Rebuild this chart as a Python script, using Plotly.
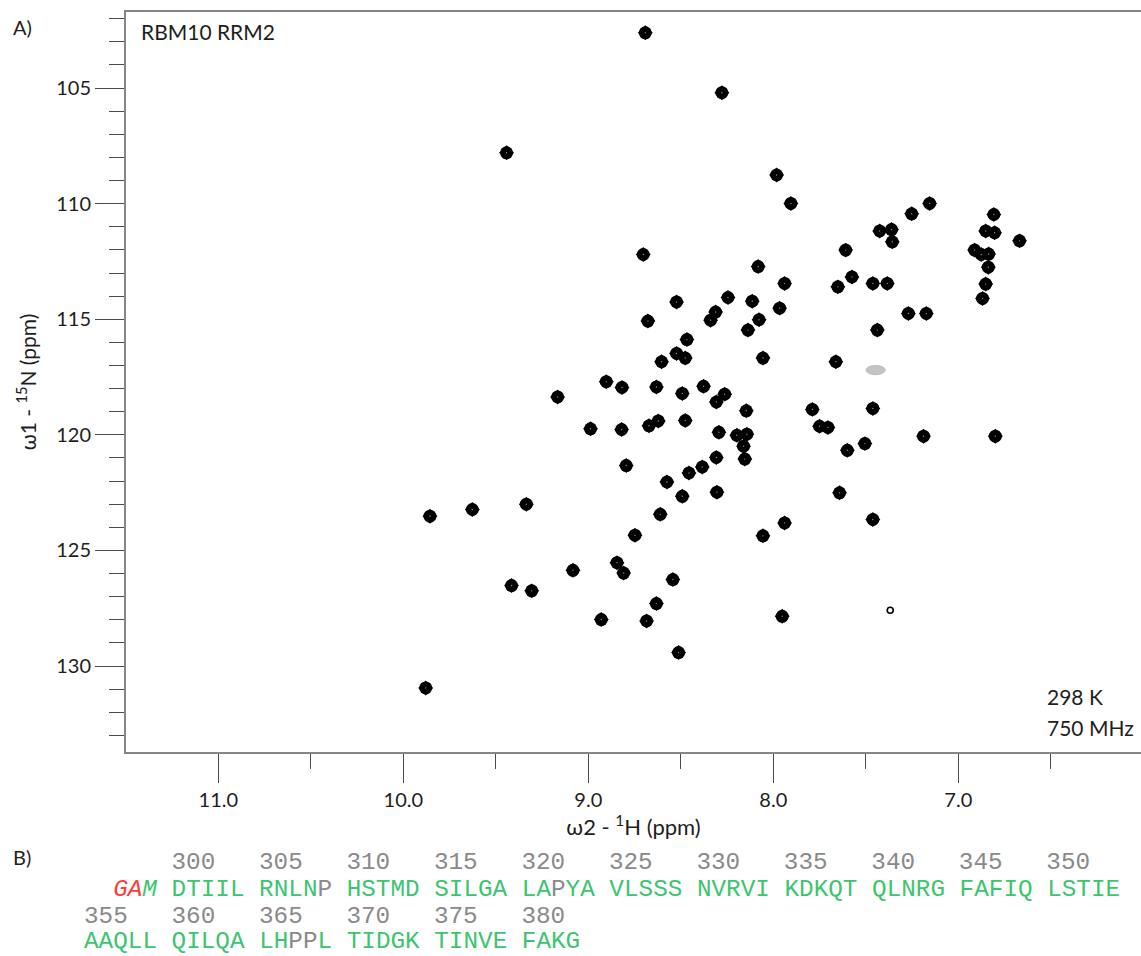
import plotly.graph_objects as go

# 1H-15N HSQC peak list of RBM10 RRM2 (ppm)
h_ppm = [8.692, 8.278, 9.442, 7.982, 7.905, 8.703, 8.082, 7.939, 8.245, 8.523,
         8.114, 7.966, 8.312, 8.339, 8.678, 8.077, 8.137, 8.467, 8.523, 8.476,
         8.604, 8.056, 8.903, 8.818, 9.166, 8.632, 8.492, 8.377, 8.263, 8.308,
         8.146, 8.988, 8.820, 8.672, 8.622, 8.476, 8.294, 8.197, 8.143, 8.161,
         8.154, 8.795, 8.575, 8.456, 8.384, 8.308, 8.492, 8.305, 9.856, 9.627,
         9.335, 8.611, 8.748, 8.056, 7.939, 9.083, 8.845, 8.809, 8.543, 9.415,
         9.306, 8.632, 8.930, 8.685, 7.952, 8.512, 9.879, 7.252, 7.155, 6.808,
         7.425, 7.361, 7.357, 7.609, 6.852, 6.804, 6.669, 6.912, 6.876, 6.836,
         6.838, 6.852, 6.869, 7.651, 7.575, 7.462, 7.384, 7.270, 7.173, 7.438,
         7.662, 7.789, 7.462, 7.750, 7.705, 7.600, 7.505, 7.188, 6.800, 7.642,
         7.462]
n_ppm = [102.61, 105.20, 107.80, 108.76, 109.99, 112.20, 112.72, 113.45, 114.06, 114.25,
         114.22, 114.52, 114.69, 115.04, 115.08, 115.02, 115.47, 115.88, 116.48, 116.68,
         116.84, 116.68, 117.70, 117.95, 118.36, 117.93, 118.21, 117.90, 118.24, 118.58,
         118.96, 119.74, 119.77, 119.61, 119.40, 119.38, 119.89, 120.02, 119.97, 120.49,
         121.05, 121.33, 122.04, 121.65, 121.39, 120.98, 122.66, 122.48, 123.52, 123.23,
         123.00, 123.44, 124.34, 124.37, 123.81, 125.86, 125.53, 125.98, 126.26, 126.52,
         126.75, 127.30, 127.99, 128.05, 127.85, 129.42, 130.95, 110.44, 109.99, 110.47,
         111.18, 111.12, 111.65, 112.01, 111.18, 111.26, 111.61, 112.01, 112.20, 112.18,
         112.75, 113.48, 114.10, 113.60, 113.17, 113.45, 113.45, 114.75, 114.75, 115.47,
         116.84, 118.90, 118.86, 119.63, 119.68, 120.67, 120.38, 120.06, 120.06, 122.51,
         123.66]

# weak contour and negative (grey) contour
weak_h = [7.368]
weak_n = [127.59]
neg_h = [7.447]
neg_n = [117.20]

# sequence panel
seq_numbers_1 = [300, 305, 310, 315, 320, 325, 330, 335, 340, 345, 350]
seq_blocks_1 = ["DTIIL", "RNLNP", "HSTMD", "SILGA", "LAPYA", "VLSSS",
                "NVRVI", "KDKQT", "QLNRG", "FAFIQ", "LSTIE"]
seq_numbers_2 = [355, 360, 365, 370, 375, 380]
seq_blocks_2 = ["AAQLL", "QILQA", "LHPPL", "TIDGK", "TINVE", "FAKG"]
tag_red = "GA"
tag_green = "M"

W, H = 1141, 956
M_L, M_R, M_T, M_B = 126, 0, 12, 204
PW = W - M_L - M_R
PH = H - M_T - M_B

SANS = "Lato"
MONO = "Liberation Mono, Courier New, monospace"
GREEN = "#3cc46f"
GREY = "#8a8a8a"
RED = "#ff3b3b"
TXT = "#1e1e1e"


def px_x(px):
    return (px - M_L) / PW


def px_y(py):
    return (H - M_B - py) / PH


fig = go.Figure()

# peak contours: a rounded diamond built from a circle and a diamond marker
fig.add_trace(go.Scatter(
    x=h_ppm, y=n_ppm, mode="markers",
    marker=dict(color="black", size=13, symbol="circle", line=dict(width=0)),
    hoverinfo="skip", showlegend=False))
fig.add_trace(go.Scatter(
    x=h_ppm, y=n_ppm, mode="markers",
    marker=dict(color="black", size=11.5, symbol="diamond", line=dict(width=0)),
    hoverinfo="skip", showlegend=False))
fig.add_trace(go.Scatter(
    x=h_ppm, y=n_ppm, mode="markers",
    marker=dict(color="#8c8c8c", size=1.4, line=dict(width=0)),
    hoverinfo="skip", showlegend=False))
fig.add_trace(go.Scatter(
    x=weak_h, y=weak_n, mode="markers",
    marker=dict(color="white", size=6, symbol="circle",
                line=dict(color="black", width=1.6)),
    hoverinfo="skip", showlegend=False))

for hx, ny in zip(neg_h, neg_n):
    fig.add_shape(type="circle", xref="x", yref="y",
                  x0=hx + 0.052, x1=hx - 0.052, y0=ny - 0.2, y1=ny + 0.2,
                  fillcolor="#c4c4c4", line=dict(color="#bdbdbd", width=1))
fig.add_trace(go.Scatter(
    x=neg_h, y=neg_n, mode="markers",
    marker=dict(color="#e6e6e6", size=2.2, line=dict(width=0)),
    hoverinfo="skip", showlegend=False))

axis_common = dict(
    showline=True, linecolor="#858585", linewidth=2,
    ticks="outside", ticklen=29, tickwidth=1.2, tickcolor="#4a4a4a",
    showgrid=False, zeroline=False,
    tickfont=dict(family=SANS, size=20, color=TXT),
)

fig.update_xaxes(
    range=[11.499, 11.499 - PW / 185.0],
    tickmode="linear", tick0=0, dtick=1, tickformat=".1f",
    minor=dict(ticks="outside", ticklen=15, tickwidth=1.2, tickcolor="#4a4a4a",
               dtick=0.5, tick0=0, showgrid=False),
    mirror=True,
    title=dict(text="ω2 - <sup>1</sup>H (ppm)", font=dict(family=SANS, size=22, color=TXT),
               standoff=8),
    **axis_common)
fig.update_yaxes(
    range=[133.72, 101.71],
    tickmode="linear", tick0=0, dtick=5,
    minor=dict(ticks="outside", ticklen=15, tickwidth=1.2, tickcolor="#4a4a4a",
               dtick=1, tick0=0, showgrid=False),
    mirror=False,
    title=dict(text="ω1 - <sup>15</sup>N (ppm)", font=dict(family=SANS, size=21, color=TXT),
               standoff=14),
    **axis_common)


def note(text, px, py, size=20, family=SANS, color=TXT):
    fig.add_annotation(text=text, xref="paper", yref="paper",
                       x=px_x(px), y=px_y(py), xanchor="left", yanchor="middle",
                       showarrow=False, borderpad=0, borderwidth=0,
                       font=dict(family=family, size=size, color=color))


note("A)", 13, 27)
note("B)", 13, 857)
note("RBM10 RRM2", 141, 32, size=21)
note("298 K", 1047, 696, size=21)
note("750 MHz", 1047, 727, size=21)

NB = "\u00a0"


def color_block(block):
    out = []
    for ch in block:
        c = GREY if ch == "P" else GREEN
        out.append(f'<span style="color:{c}">{ch}</span>')
    return "".join(out)


def number_line(nums, lead):
    return NB * lead + (NB * 3).join(str(v) for v in nums)


line1 = number_line(seq_numbers_1, 6)
line2 = (NB * 2 + f'<span style="color:{RED}"><i>{tag_red}</i></span>'
         + f'<span style="color:{GREEN}"><i>{tag_green}</i></span>' + NB
         + NB.join(color_block(b) for b in seq_blocks_1))
line3 = number_line(seq_numbers_2, 0)
line4 = NB.join(color_block(b) for b in seq_blocks_2)

SEQ_X = 84
SEQ_SIZE = 24.3
note(line1, SEQ_X, 862, size=SEQ_SIZE, family=MONO, color=GREY)
note(line2, SEQ_X, 889, size=SEQ_SIZE, family=MONO, color=GREEN)
note(line3, SEQ_X, 916, size=SEQ_SIZE, family=MONO, color=GREY)
note(line4, SEQ_X, 941, size=SEQ_SIZE, family=MONO, color=GREEN)

fig.update_layout(
    width=W, height=H,
    margin=dict(l=M_L, r=M_R, t=M_T, b=M_B, pad=0),
    paper_bgcolor="white", plot_bgcolor="white",
    showlegend=False,
    font=dict(family=SANS, color=TXT),
)

fig.write_html("out.html")
